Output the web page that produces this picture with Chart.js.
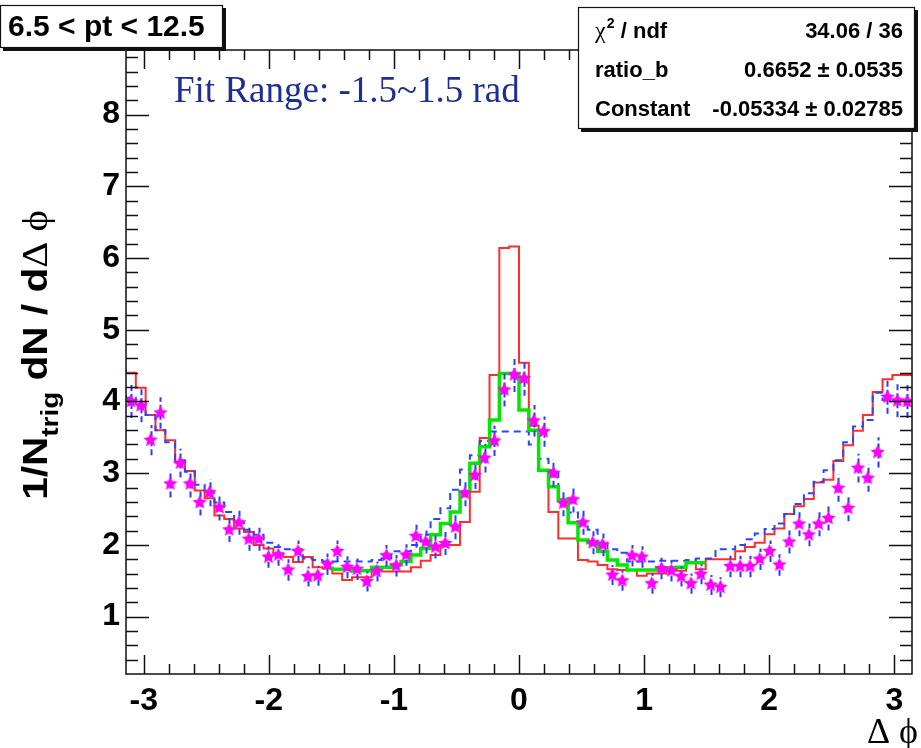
<!DOCTYPE html>
<html>
<head>
<meta charset="utf-8">
<script src="https://cdn.jsdelivr.net/npm/chart.js@4.4.1/dist/chart.umd.min.js"></script>
<style>
  html, body { margin: 0; padding: 0; background: #ffffff; }
  #wrap { width: 921px; height: 748px; position: relative; }
  canvas { display: block; }
</style>
</head>
<body>
<div id="wrap"><canvas id="c" width="921" height="748"></canvas></div>
<script>
// Δφ histogram: 80 bins over [-π, π]
const PHI_MIN = -Math.PI;
const PHI_MAX = Math.PI;
const N_BINS = 80;

// tick labels
const xTicks = [-3, -2, -1, 0, 1, 2, 3];
const yTicks = [1, 2, 3, 4, 5, 6, 7, 8];

// measured per-trigger yield (stars) and its errors
const dataVals = [
  4.00, 3.94, 3.46, 3.84, 2.85, 3.14, 2.85, 2.59, 2.73, 2.52,
  2.21, 2.31, 2.08, 2.08, 1.83, 1.86, 1.65, 1.91, 1.56, 1.57,
  1.73, 1.91, 1.69, 1.66, 1.49, 1.63, 1.85, 1.71, 1.86, 2.12,
  2.04, 1.97, 2.02, 2.25, 2.72, 2.97, 3.21, 3.45, 4.16, 4.37,
  4.32, 3.73, 3.58, 3.00, 2.58, 2.63, 2.31, 2.03, 2.00, 1.58,
  1.50, 1.85, 1.83, 1.46, 1.67, 1.64, 1.56, 1.46, 1.59, 1.44,
  1.41, 1.70, 1.70, 1.70, 1.80, 1.91, 1.72, 2.04, 2.29, 2.14,
  2.29, 2.37, 2.79, 2.51, 3.07, 2.93, 3.29, 4.06, 4.01, 4.00
];
const dataErrs = [
  0.23, 0.23, 0.21, 0.22, 0.19, 0.20, 0.19, 0.18, 0.19, 0.18,
  0.17, 0.17, 0.16, 0.16, 0.15, 0.15, 0.15, 0.15, 0.14, 0.14,
  0.15, 0.15, 0.15, 0.15, 0.14, 0.14, 0.15, 0.15, 0.15, 0.16,
  0.16, 0.16, 0.16, 0.17, 0.18, 0.19, 0.20, 0.21, 0.23, 0.24,
  0.24, 0.22, 0.21, 0.19, 0.18, 0.18, 0.17, 0.16, 0.16, 0.14,
  0.14, 0.15, 0.15, 0.14, 0.15, 0.15, 0.14, 0.14, 0.14, 0.14,
  0.14, 0.15, 0.15, 0.15, 0.15, 0.15, 0.15, 0.16, 0.17, 0.16,
  0.17, 0.17, 0.19, 0.18, 0.20, 0.19, 0.21, 0.23, 0.23, 0.23
];

// template A (red solid histogram)
const templateA = [
  4.45, 4.40, 4.19, 3.81, 3.60, 3.46, 3.15, 3.03, 2.76, 2.65,
  2.41, 2.36, 2.23, 2.18, 2.00, 1.95, 1.88, 1.83, 1.76, 1.83,
  1.69, 1.67, 1.60, 1.51, 1.55, 1.55, 1.67, 1.63, 1.63, 1.63,
  1.69, 1.78, 1.86, 2.00, 2.00, 2.32, 2.74, 3.49, 4.37, 6.14,
  6.16, 4.54, 3.66, 3.04, 2.46, 2.09, 2.09, 1.79, 1.77, 1.72,
  1.66, 1.65, 1.65, 1.57, 1.60, 1.60, 1.64, 1.64, 1.75, 1.66,
  1.80, 1.80, 1.80, 1.91, 1.97, 2.03, 2.15, 2.23, 2.43, 2.54,
  2.64, 2.87, 2.91, 3.17, 3.39, 3.59, 3.81, 4.13, 4.31, 4.37
];

// template B (blue dashed histogram)
const templateB = [
  4.09, 4.05, 3.92, 3.81, 3.60, 3.43, 3.18, 3.02, 2.84, 2.72,
  2.59, 2.46, 2.31, 2.21, 2.14, 2.03, 1.97, 1.94, 1.94, 1.81,
  1.79, 1.77, 1.77, 1.77, 1.77, 1.77, 1.79, 1.81, 1.91, 1.91,
  2.00, 2.14, 2.36, 2.51, 2.77, 3.05, 3.25, 3.45, 3.58, 3.58,
  3.58, 3.58, 3.40, 3.20, 3.04, 2.57, 2.45, 2.30, 2.21, 2.03,
  1.94, 1.89, 1.77, 1.77, 1.77, 1.78, 1.78, 1.78, 1.79, 1.81,
  1.81, 1.94, 1.94, 2.00, 2.08, 2.16, 2.22, 2.30, 2.43, 2.57,
  2.72, 2.88, 3.04, 3.18, 3.43, 3.65, 3.74, 4.12, 4.02, 4.02
];

// fit result over |Δφ| < 1.5 (green), starting at bin FIT_FIRST_BIN
const FIT_FIRST_BIN = 21;
const fitVals = [
  1.70, 1.66, 1.66, 1.64, 1.64, 1.69, 1.69, 1.72, 1.77, 1.86,
  1.95, 2.14, 2.30, 2.46, 2.74, 3.14, 3.37, 3.74, 4.39, 4.39,
  3.88, 3.60, 3.04, 2.81, 2.63, 2.31, 2.07, 2.03, 1.91, 1.79,
  1.72, 1.65, 1.65, 1.65, 1.68, 1.68, 1.69, 1.75
];

const BIN_W = (PHI_MAX - PHI_MIN) / N_BINS;
const binLow = k => PHI_MIN + k * BIN_W;
const binCenter = k => PHI_MIN + (k + 0.5) * BIN_W;

// step outline: one point per bin low edge, plus the closing upper edge
function stepPoints(vals, firstBin) {
  const pts = vals.map((v, i) => ({ x: binLow(firstBin + i), y: v }));
  pts.push({ x: binLow(firstBin + vals.length), y: vals[vals.length - 1] });
  return pts;
}

// filled five-pointed star marker
function makeStar(rOut, rIn, color) {
  const s = Math.ceil(rOut * 2 + 2);
  const c = document.createElement('canvas');
  c.width = s; c.height = s;
  const g = c.getContext('2d');
  g.translate(s / 2, s / 2);
  g.beginPath();
  for (let i = 0; i < 10; i++) {
    const r = i % 2 ? rIn : rOut;
    const a = -Math.PI / 2 + i * Math.PI / 5;
    g.lineTo(r * Math.cos(a), r * Math.sin(a));
  }
  g.closePath();
  g.fillStyle = color;
  g.fill();
  return c;
}
const starMarker = makeStar(7.5, 3.6, '#ff00ff');

const SANS = '"Liberation Sans", Arial, Helvetica, sans-serif';
const SERIF = '"Liberation Serif", "Times New Roman", serif';

// vertical error bars, drawn just below the star markers
const errorBarPlugin = {
  id: 'errorBars',
  beforeDatasetDraw(chart, args) {
    if (args.index !== 0) return;
    const { ctx, chartArea } = chart;
    const xs = chart.scales.x, ys = chart.scales.y;
    ctx.save();
    ctx.beginPath();
    ctx.rect(chartArea.left, chartArea.top, chartArea.right - chartArea.left, chartArea.bottom - chartArea.top);
    ctx.clip();
    ctx.strokeStyle = '#2a3cff';
    ctx.lineWidth = 2;
    ctx.setLineDash([6, 3]);
    dataVals.forEach((v, k) => {
      const px = Math.round(xs.getPixelForValue(binCenter(k))) + 0.5;
      ctx.beginPath();
      ctx.moveTo(px, ys.getPixelForValue(v - dataErrs[k]));
      ctx.lineTo(px, ys.getPixelForValue(v + dataErrs[k]));
      ctx.stroke();
    });
    ctx.restore();
  }
};

// frame with inward ticks on all four sides
const framePlugin = {
  id: 'frame',
  afterDatasetsDraw(chart) {
    const { ctx, chartArea } = chart;
    const { left, right, top, bottom } = chartArea;
    const xs = chart.scales.x, ys = chart.scales.y;
    ctx.save();
    ctx.strokeStyle = '#111';
    ctx.lineWidth = 1.5;
    ctx.strokeRect(left, top, right - left, bottom - top);
    ctx.beginPath();
    for (let i = -15; i <= 15; i++) {
      const px = Math.round(xs.getPixelForValue(i * 0.2)) + 0.5;
      const major = i % 5 === 0;
      const lb = major ? 19 : 10;
      ctx.moveTo(px, bottom); ctx.lineTo(px, bottom - lb);
      ctx.moveTo(px, top); ctx.lineTo(px, top + lb);
    }
    for (let i = 2; i <= 44; i++) {
      const py = Math.round(ys.getPixelForValue(i * 0.2)) + 0.5;
      const major = i % 5 === 0;
      const ll = major ? 23 : 12;
      ctx.moveTo(left, py); ctx.lineTo(left + ll, py);
      ctx.moveTo(right, py); ctx.lineTo(right - ll, py);
    }
    ctx.stroke();
    ctx.restore();
  }
};

// boxed texts and axis titles
function pave(ctx, x0, y0, x1, y1, sh) {
  ctx.fillStyle = '#111';
  ctx.fillRect(x0 + sh, y1, x1 - x0, sh);
  ctx.fillRect(x1, y0 + sh, sh, y1 - y0);
  ctx.fillStyle = '#fff';
  ctx.fillRect(x0, y0, x1 - x0, y1 - y0);
  ctx.strokeStyle = '#111';
  ctx.lineWidth = 1.2;
  ctx.strokeRect(x0 + 0.5, y0 + 0.5, x1 - x0 - 1, y1 - y0 - 1);
}

const textPlugin = {
  id: 'texts',
  afterDraw(chart) {
    const ctx = chart.ctx;
    ctx.save();

    // pt bin label
    pave(ctx, 0, 5, 223, 48, 3);
    ctx.fillStyle = '#000';
    ctx.font = 'bold 30px ' + SANS;
    ctx.textAlign = 'left';
    ctx.textBaseline = 'alphabetic';
    ctx.fillText('6.5 < pt < 12.5', 8, 36);

    // fit statistics
    pave(ctx, 578, 7, 915, 129, 3);
    ctx.fillStyle = '#000';
    ctx.font = '24px ' + SERIF;
    ctx.fillText('χ', 595, 38);
    const chiW = ctx.measureText('χ').width;
    ctx.font = 'bold 14px ' + SANS;
    ctx.fillText('2', 595 + chiW + 1, 28);
    ctx.font = 'bold 22px ' + SANS;
    ctx.fillText(' / ndf', 595 + chiW + 9, 38);
    ctx.fillText('ratio_b', 595, 77);
    ctx.fillText('Constant', 595, 116);
    ctx.textAlign = 'right';
    ctx.fillText('34.06 / 36', 903, 38);
    ctx.fillText('0.6652 ± 0.0535', 903, 77);
    ctx.fillText('-0.05334 ± 0.02785', 903, 116);

    // fit range note
    ctx.textAlign = 'left';
    ctx.fillStyle = '#1f2e94';
    ctx.font = '37px ' + SERIF;
    ctx.fillText('Fit Range: -1.5~1.5 rad', 174, 102);

    // x axis title
    ctx.fillStyle = '#000';
    ctx.textAlign = 'right';
    ctx.font = '36px ' + SERIF;
    ctx.fillText('Δ ϕ', 918, 743);

    // y axis title, rotated and slightly widened along its run
    const parts = [
      { t: '1/N', f: 'bold 35px ' + SANS, dy: 0 },
      { t: 'trig', f: 'bold 24px ' + SANS, dy: 11 },
      { t: ' dN / d', f: 'bold 35px ' + SANS, dy: 0 },
      { t: 'Δ', f: '35px ' + SERIF, dy: 0 },
      { t: ' ϕ', f: '35px ' + SERIF, dy: 0 }
    ];
    let total = 0;
    parts.forEach(p => { ctx.font = p.f; p.w = ctx.measureText(p.t).width; total += p.w; });
    ctx.translate(47, 355);
    ctx.rotate(-Math.PI / 2);
    ctx.scale(1.16, 1);
    ctx.textAlign = 'left';
    let cx = -total / 2;
    parts.forEach(p => { ctx.font = p.f; ctx.fillText(p.t, cx, p.dy); cx += p.w; });

    ctx.restore();
  }
};

const tickFont = { family: SANS, size: 32, weight: 'bold' };

new Chart(document.getElementById('c'), {
  type: 'line',
  data: {
    datasets: [
      {
        label: 'data',
        type: 'scatter',
        data: dataVals.map((v, k) => ({ x: binCenter(k), y: v })),
        pointStyle: starMarker,
        pointRadius: 8,
        showLine: false,
        order: 0
      },
      {
        label: 'fit',
        data: stepPoints(fitVals, FIT_FIRST_BIN),
        stepped: 'after',
        borderColor: 'rgb(0,232,0)',
        borderWidth: 3.5,
        pointRadius: 0,
        fill: false,
        order: 1
      },
      {
        label: 'templateB',
        data: stepPoints(templateB, 0),
        stepped: 'after',
        borderColor: 'rgb(40,70,255)',
        borderWidth: 2,
        borderDash: [7, 5],
        pointRadius: 0,
        fill: false,
        order: 2
      },
      {
        label: 'templateA',
        data: stepPoints(templateA, 0),
        stepped: 'after',
        borderColor: 'rgb(255,45,45)',
        borderWidth: 2,
        pointRadius: 0,
        fill: false,
        order: 3
      }
    ]
  },
  options: {
    responsive: false,
    devicePixelRatio: 1,
    animation: false,
    parsing: false,
    layout: { padding: { left: 0, right: 5, top: 50, bottom: 0 } },
    plugins: { legend: { display: false }, tooltip: { enabled: false } },
    scales: {
      x: {
        type: 'linear',
        min: PHI_MIN,
        max: PHI_MAX,
        afterBuildTicks: s => { s.ticks = xTicks.map(v => ({ value: v })); },
        afterFit: s => { s.height = 74; },
        ticks: { font: tickFont, color: '#000', padding: 8, maxRotation: 0, autoSkip: false, callback: v => String(v) },
        grid: { display: false, drawTicks: false },
        border: { display: false }
      },
      y: {
        type: 'linear',
        min: 0.2,
        max: 8.9,
        afterBuildTicks: s => { s.ticks = yTicks.map(v => ({ value: v })); },
        afterFit: s => { s.width = 126; },
        ticks: { font: tickFont, color: '#000', padding: 6, autoSkip: false, callback: v => String(v) },
        grid: { display: false, drawTicks: false },
        border: { display: false }
      }
    }
  },
  plugins: [errorBarPlugin, framePlugin, textPlugin]
});
</script>
</body>
</html>
